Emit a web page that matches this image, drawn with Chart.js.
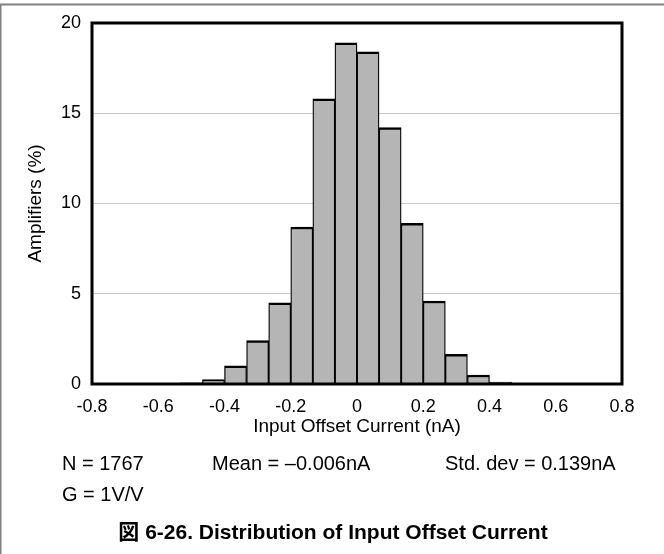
<!DOCTYPE html>
<html>
<head>
<meta charset="utf-8">
<script src="https://cdn.jsdelivr.net/npm/chart.js@4.4.0/dist/chart.umd.min.js"></script>
<style>
html,body{margin:0;padding:0;background:#fff;}
#wrap{width:664px;height:554px;}
</style>
</head>
<body>
<div id="wrap"><canvas id="chart" width="664" height="554"></canvas></div>
<script>
// histogram bins (centers, nA) and share of amplifiers (%)
const binCenters=[-0.5,-0.4333,-0.3667,-0.3,-0.2333,-0.1667,-0.1,-0.0333,0.0333,0.1,0.1667,0.2333,0.3,0.3667,0.4333];
const amplifiers=[0.06,0.25,1.0,2.4,4.5,8.7,15.8,18.9,18.4,14.2,8.9,4.6,1.65,0.5,0.1];
const xTicks=[-0.8,-0.6,-0.4,-0.2,0,0.2,0.4,0.6,0.8];
const yTicks=[0,5,10,15,20];
const statsRow1=['N = 1767','Mean = \u20130.006nA','Std. dev = 0.139nA'];
const statsRow2=['G = 1V/V'];
const caption='\u56f3 6-26. Distribution of Input Offset Current';

const FONT='"Liberation Sans", Arial, "Noto Sans CJK JP", sans-serif';

// frame, plot box and the notes under the axis
const extras={
    id:'extras',
    beforeDraw(chart){
        const ctx=chart.ctx;
        ctx.save();
        ctx.strokeStyle='#808080';
        ctx.lineWidth=2;
        ctx.beginPath();
        ctx.moveTo(0,4.5);ctx.lineTo(664,4.5);
        ctx.stroke();
        ctx.lineWidth=1.5;
        ctx.beginPath();
        ctx.moveTo(0.75,4);ctx.lineTo(0.75,554);
        ctx.stroke();
        ctx.restore();
    },
    afterDatasetsDraw(chart){
        const ctx=chart.ctx;
        const a=chart.chartArea;
        ctx.save();
        ctx.strokeStyle='#000';
        ctx.lineWidth=3;
        ctx.strokeRect(a.left,a.top,a.right-a.left,a.bottom-a.top);
        ctx.restore();
    },
    afterDraw(chart){
        const ctx=chart.ctx;
        ctx.save();
        ctx.fillStyle='#000';
        ctx.textBaseline='alphabetic';
        ctx.textAlign='left';
        ctx.font='20px '+FONT;
        const row1X=[62,212,445];
        statsRow1.forEach((t,i)=>ctx.fillText(t,row1X[i],470));
        statsRow2.forEach(t=>ctx.fillText(t,62,501));
        ctx.font='bold 21px '+FONT;
        ctx.textAlign='center';
        ctx.fillText(caption,333,539);
        ctx.restore();
    }
};

const ctx=document.getElementById('chart');
new Chart(ctx,{
    type:'bar',
    data:{
        datasets:[{
            data:binCenters.map((x,i)=>({x:x,y:amplifiers[i]})),
            backgroundColor:'#b5b5b5',
            borderColor:'#000',
            borderWidth:{top:2.5,left:1.3,right:1.3,bottom:0},
            borderSkipped:'start',
            barPercentage:1,
            categoryPercentage:1
        }]
    },
    options:{
        responsive:false,
        devicePixelRatio:1,
        animation:false,
        layout:{padding:{left:0,top:23,right:42,bottom:114}},
        plugins:{legend:{display:false},tooltip:{enabled:false}},
        scales:{
            x:{
                type:'linear',
                min:-0.8,max:0.8,
                offset:false,
                afterBuildTicks:s=>{s.ticks=xTicks.map(v=>({value:v}));},
                afterFit:s=>{s.height=56;},
                grid:{display:false,drawTicks:false},
                border:{display:false},
                ticks:{
                    padding:12,
                    color:'#000',
                    font:{family:FONT,size:18},
                    callback:v=>String(Number(v.toFixed(1)))
                },
                title:{
                    display:true,
                    text:'Input Offset Current (nA)',
                    color:'#000',
                    font:{family:FONT,size:19},
                    padding:{top:0,bottom:1.6}
                }
            },
            y:{
                min:0,max:20,
                afterBuildTicks:s=>{s.ticks=yTicks.map(v=>({value:v}));},
                afterFit:s=>{s.width=92;},
                grid:{
                    drawTicks:false,
                    color:c=>(c.tick.value===0||c.tick.value===20)?'rgba(0,0,0,0)':'#c8c8c8'
                },
                border:{display:false},
                ticks:{
                    padding:11,
                    color:'#000',
                    font:{family:FONT,size:18}
                },
                title:{
                    display:true,
                    text:'Amplifiers (%)',
                    color:'#000',
                    font:{family:FONT,size:19},
                    padding:{top:24.6,bottom:0}
                }
            }
        }
    },
    plugins:[extras]
});
</script>
</body>
</html>
